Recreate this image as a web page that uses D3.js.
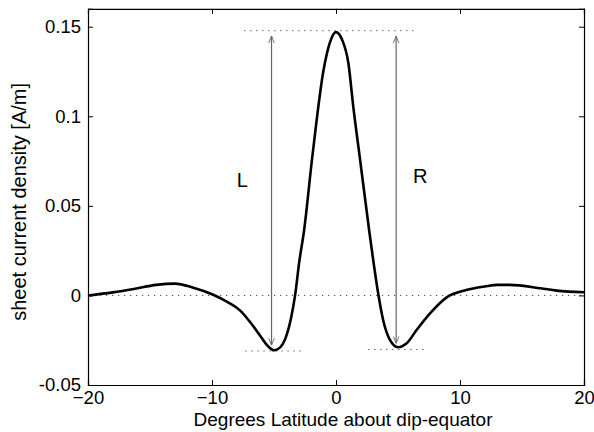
<!DOCTYPE html>
<html>
<head>
<meta charset="utf-8">
<script src="https://cdn.jsdelivr.net/npm/d3@7"></script>
<style>
body { margin: 0; background: #fff; }
text { font-family: "Liberation Sans", Arial, sans-serif; }
</style>
</head>
<body>
<div id="chart"></div>
<script>
// latitude (deg) and sheet current density (A/m)
var lat = [-20, -18, -16.3, -14.5, -13, -11.5, -9.9, -8.7, -7.7, -6.9, -6.1, -5.5, -5.0, -4.5, -4.1, -3.6, -3.3, -2.95, -2.6, -1.9, -1.0, -0.5, 0,
           0.5, 1.0, 1.4, 1.9, 2.7, 3.0, 3.4, 3.8, 4.35, 5.0, 5.7, 6.5, 7.6, 8.9, 10.5, 12, 13, 14, 16.5, 17.8, 20];
var J = [0, 0.0017, 0.0036, 0.0059, 0.0066, 0.0043, 0.0004, -0.0039, -0.0086, -0.0151, -0.0226, -0.0282, -0.0306, -0.029, -0.0244, -0.0118, 0, 0.0194, 0.035, 0.078, 0.126, 0.141, 0.147,
         0.1426, 0.1296, 0.105, 0.078, 0.035, 0.0198, 0.0012, -0.0137, -0.0248, -0.0289, -0.0267, -0.0193, -0.0099, -0.0012, 0.003, 0.005, 0.0059, 0.0059, 0.004, 0.0027, 0.0018];

var xTicks = [-20, -10, 0, 10, 20];
var yTicks = [-0.05, 0, 0.05, 0.1, 0.15];

// reference lines: [x0, x1, y]
var refLines = [[-7.4, 6.6, 0.1478], [-7.3, -2.7, -0.031], [2.6, 7.3, -0.0302]];
// arrows: [x, yBottom, yTop]
var arrows = [[-5.2, -0.0278, 0.1448], [4.85, -0.0268, 0.1448]];
var labels = [["L", -8.0, 0.0605], ["R", 6.2, 0.0625]];

var W = 594, H = 432;
var svg = d3.select("#chart").append("svg")
    .attr("width", W)
    .attr("height", H)

var x = d3.scaleLinear().domain([-20, 20]).range([88, 584]);
var y = d3.scaleLinear().domain([-0.05, 0.16]).range([385, 8.8]);

// zero line
svg.append("line")
    .attr("x1", x(-20)).attr("x2", x(20))
    .attr("y1", y(0)).attr("y2", y(0))
    .style("stroke", "#444")
    .style("stroke-dasharray", "1.2,4.8")

svg.selectAll(".ref")
    .data(refLines)
    .enter()
    .append("line")
    .attr("x1", function(d){ return x(d[0]) })
    .attr("x2", function(d){ return x(d[1]) })
    .attr("y1", function(d){ return y(d[2]) })
    .attr("y2", function(d){ return y(d[2]) })
    .style("stroke", "#444")
    .style("stroke-dasharray", "1.2,4.8")

// arrowhead
svg.append("defs").append("marker")
    .attr("id", "head")
    .attr("viewBox", "0 0 10 10")
    .attr("refX", 10).attr("refY", 5)
    .attr("markerWidth", 7).attr("markerHeight", 7)
    .attr("markerUnits", "userSpaceOnUse")
    .attr("orient", "auto-start-reverse")
    .append("path")
    .attr("d", "M0,1 L10,5 L0,9")
    .style("fill", "none")
    .style("stroke", "#666")
    .style("stroke-width", 1.3)

svg.selectAll(".arrow")
    .data(arrows)
    .enter()
    .append("line")
    .attr("x1", function(d){ return x(d[0]) })
    .attr("x2", function(d){ return x(d[0]) })
    .attr("y1", function(d){ return y(d[1]) })
    .attr("y2", function(d){ return y(d[2]) })
    .style("stroke", "#666")
    .style("stroke-width", 1.2)
    .attr("marker-start", "url(#head)")
    .attr("marker-end", "url(#head)")

svg.selectAll(".lbl")
    .data(labels)
    .enter()
    .append("text")
    .attr("x", function(d){ return x(d[1]) })
    .attr("y", function(d){ return y(d[2]) })
    .text(function(d){ return d[0] })
    .style("font-size", "20px")
    .style("fill", "#000")

// curve
var line = d3.line()
    .x(function(d){ return x(d[0]) })
    .y(function(d){ return y(d[1]) })
    .curve(d3.curveMonotoneX);

svg.append("path")
    .datum(d3.zip(lat, J))
    .attr("d", line)
    .style("fill", "none")
    .style("stroke", "#000")
    .style("stroke-width", 2.6)
    .style("stroke-linejoin", "round")

// axes, ticks pointing inward on all four sides
var tk = 5;
svg.append("g").attr("transform", "translate(0," + y(-0.05) + ")")
    .call(d3.axisBottom(x).tickValues(xTicks).tickSize(-tk).tickPadding(6).tickFormat(d3.format("d")));
svg.append("g").attr("transform", "translate(0," + y(0.16) + ")")
    .call(d3.axisTop(x).tickValues(xTicks).tickSize(-tk).tickFormat(""));
svg.append("g").attr("transform", "translate(" + x(-20) + ",0)")
    .call(d3.axisLeft(y).tickValues(yTicks).tickSize(-tk).tickPadding(7).tickFormat(function(d){ return d === 0 ? "0" : String(+d.toFixed(2)) }));
svg.append("g").attr("transform", "translate(" + x(20) + ",0)")
    .call(d3.axisRight(y).tickValues(yTicks).tickSize(-tk).tickFormat(""));

svg.selectAll(".domain").style("stroke", "#000").style("stroke-width", 1.2)
svg.selectAll(".tick line").style("stroke", "#000")
svg.selectAll(".tick text").style("font-size", "18.5px").style("fill", "#000")

svg.append("text")
    .attr("x", (x(-20) + x(20)) / 2 + 7)
    .attr("y", 426)
    .attr("text-anchor", "middle")
    .style("font-size", "19px")
    .text("Degrees Latitude about dip-equator")

svg.append("text")
    .attr("transform", "translate(26," + ((y(-0.05) + y(0.16)) / 2 + 5) + ") rotate(-90)")
    .attr("text-anchor", "middle")
    .style("font-size", "20px")
    .text("sheet current density [A/m]")
</script>
</body>
</html>
